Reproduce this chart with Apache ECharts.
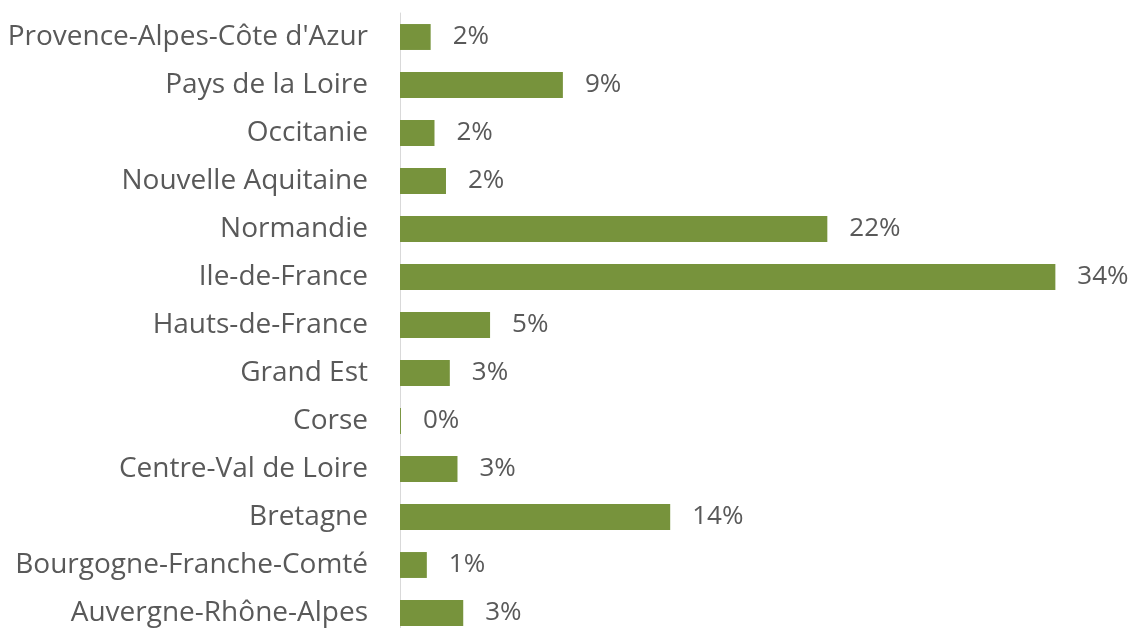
<!DOCTYPE html>
<html>
<head>
<meta charset="utf-8">
<script src="https://cdn.jsdelivr.net/npm/echarts@6/dist/echarts.min.js"></script>
<style>
  html, body { margin: 0; padding: 0; background: #fff; }
  #main { width: 1136px; height: 628px; }
</style>
</head>
<body>
<div id="main"></div>
<script>
// categories, bottom to top (as the axis draws them)
const regions = [
  'Auvergne-Rhône-Alpes',
  'Bourgogne-Franche-Comté',
  'Bretagne',
  'Centre-Val de Loire',
  'Corse',
  'Grand Est',
  'Hauts-de-France',
  'Ile-de-France',
  'Normandie',
  'Nouvelle Aquitaine',
  'Occitanie',
  'Pays de la Loire',
  "Provence-Alpes-Côte d'Azur"
]
// share in percent
const shares = [3.3, 1.4, 14.1, 3.0, 0.05, 2.6, 4.7, 34.2, 22.3, 2.4, 1.8, 8.5, 1.6]

const textColor = '#595959'
const fontFamily = '"Open Sans", "Noto Sans", sans-serif'

const myChart = echarts.init(document.getElementById('main'))

myChart.setOption({
  animation: false,
  grid: {
    left: 400,
    width: 670.7,
    top: 13,
    height: 624,
    outerBoundsMode: 'none'
  },
  xAxis: {
    type: 'value',
    min: 0,
    max: 35,
    show: false
  },
  yAxis: {
    type: 'category',
    data: regions,
    axisLine: { show: true, lineStyle: { color: '#d9d9d9', width: 1 } },
    axisTick: { show: false },
    axisLabel: {
      color: textColor,
      fontFamily: fontFamily,
      fontSize: 28,
      margin: 32
    }
  },
  series: [{
    type: 'bar',
    data: shares,
    barCategoryGap: '46%',
    itemStyle: { color: '#77933c' },
    label: {
      show: true,
      position: 'right',
      distance: 22,
      color: textColor,
      fontFamily: fontFamily,
      fontSize: 26,
      formatter: (p) => Math.round(p.value) + '%'
    }
  }]
})
</script>
</body>
</html>
